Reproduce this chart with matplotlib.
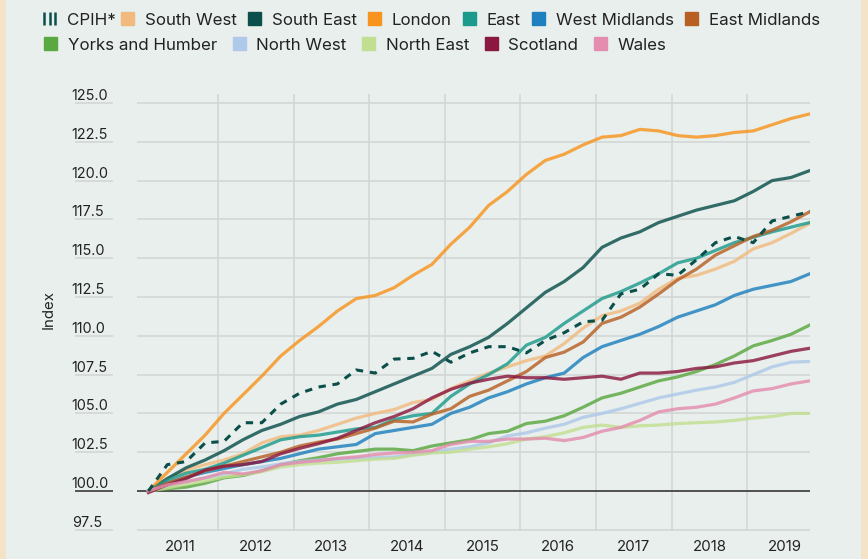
import matplotlib
matplotlib.use('Agg')
import matplotlib.pyplot as plt
from matplotlib.lines import Line2D
from matplotlib.patches import Patch, Rectangle
import numpy as np

plt.rcParams['font.family'] = ['Inter', 'DejaVu Sans']
TXT = '#222222'

# quarterly readings, Feb 2011 .. Nov 2019 (index, base = 100)
years = 2011.08 + 0.25 * np.arange(36)

cpih = [100.0, 101.7, 101.9, 103.1, 103.2, 104.4, 104.4, 105.6, 106.3, 106.7, 106.9, 107.8,
        107.6, 108.5, 108.55, 109.0, 108.3, 108.9, 109.3, 109.3, 108.9, 109.7, 110.2, 110.9,
        111.0, 112.7, 113.0, 114.0, 113.9, 114.9, 116.0, 116.4, 116.0, 117.4, 117.7, 118.0]
south_west = [100.0, 100.8, 101.35, 101.7, 102.0, 102.4, 103.1, 103.5, 103.6, 103.9, 104.3, 104.7,
              105.0, 105.25, 105.7, 105.9, 106.6, 107.1, 107.6, 108.0, 108.4, 108.7, 109.5, 110.5,
              111.3, 111.6, 112.1, 113.0, 113.7, 113.9, 114.3, 114.8, 115.6, 116.0, 116.6, 117.25]
south_east = [100.0, 100.8, 101.5, 102.0, 102.6, 103.3, 103.9, 104.3, 104.8, 105.1, 105.6, 105.9,
              106.4, 106.9, 107.4, 107.9, 108.8, 109.3, 109.9, 110.8, 111.8, 112.8, 113.5, 114.4,
              115.7, 116.3, 116.7, 117.3, 117.7, 118.1, 118.4, 118.7, 119.3, 120.0, 120.2, 120.65]
london = [100.0, 101.2, 102.4, 103.6, 105.0, 106.2, 107.4, 108.7, 109.7, 110.6, 111.6, 112.4,
          112.6, 113.1, 113.9, 114.6, 115.9, 117.0, 118.4, 119.3, 120.4, 121.3, 121.7, 122.3,
          122.8, 122.9, 123.3, 123.2, 122.9, 122.8, 122.9, 123.1, 123.2, 123.6, 124.0, 124.3]
east = [100.0, 100.7, 101.15, 101.4, 101.8, 102.3, 102.8, 103.3, 103.5, 103.6, 103.8, 104.0,
        104.1, 104.6, 104.85, 105.0, 106.1, 106.9, 107.5, 108.2, 109.4, 109.9, 110.8, 111.6,
        112.4, 112.85, 113.4, 114.0, 114.7, 115.0, 115.5, 116.0, 116.35, 116.7, 117.0, 117.3]
west_midlands = [100.0, 100.5, 100.9, 101.2, 101.45, 101.7, 101.9, 102.1, 102.4, 102.7, 102.85, 103.0,
                 103.7, 103.9, 104.1, 104.3, 105.0, 105.4, 106.0, 106.4, 106.9, 107.3, 107.6, 108.6,
                 109.3, 109.7, 110.1, 110.6, 111.2, 111.6, 112.0, 112.6, 113.0, 113.25, 113.5, 114.0]
east_midlands = [100.0, 100.5, 100.9, 101.3, 101.6, 101.9, 102.2, 102.5, 102.9, 103.15, 103.35, 103.7,
                 104.05, 104.5, 104.45, 104.95, 105.3, 106.1, 106.5, 107.1, 107.7, 108.6, 108.95, 109.6,
                 110.8, 111.2, 111.85, 112.7, 113.6, 114.3, 115.2, 115.8, 116.4, 116.8, 117.35, 118.0]
yorks = [100.0, 100.15, 100.25, 100.5, 100.85, 101.0, 101.3, 101.7, 101.95, 102.15, 102.4, 102.55,
         102.7, 102.7, 102.6, 102.9, 103.1, 103.3, 103.7, 103.85, 104.35, 104.5, 104.85, 105.4,
         106.0, 106.3, 106.7, 107.1, 107.35, 107.7, 108.15, 108.7, 109.35, 109.7, 110.1, 110.7]
north_west = [100.0, 100.3, 100.6, 100.85, 101.1, 101.4, 101.55, 101.75, 101.9, 102.0, 102.05, 102.1,
              102.15, 102.2, 102.35, 102.5, 102.7, 102.85, 103.1, 103.55, 103.75, 104.05, 104.3, 104.75,
              105.0, 105.3, 105.65, 106.0, 106.25, 106.5, 106.7, 107.0, 107.5, 108.0, 108.3, 108.35]
north_east = [100.0, 100.2, 100.45, 100.65, 100.9, 101.05, 101.25, 101.55, 101.7, 101.8, 101.85, 101.95,
              102.05, 102.1, 102.3, 102.45, 102.5, 102.7, 102.85, 103.05, 103.35, 103.5, 103.75, 104.1,
              104.25, 104.1, 104.2, 104.25, 104.35, 104.4, 104.45, 104.55, 104.7, 104.8, 105.0, 105.0]
scotland = [99.9, 100.4, 100.8, 101.35, 101.6, 101.7, 101.9, 102.4, 102.75, 103.05, 103.4, 103.9,
            104.4, 104.8, 105.3, 106.0, 106.55, 106.95, 107.2, 107.4, 107.3, 107.3, 107.2, 107.3,
            107.4, 107.2, 107.6, 107.6, 107.7, 107.9, 108.0, 108.25, 108.4, 108.7, 109.0, 109.2]
wales = [100.0, 100.4, 100.6, 100.85, 101.2, 101.1, 101.3, 101.7, 101.85, 101.95, 102.1, 102.2,
         102.35, 102.45, 102.5, 102.6, 103.0, 103.2, 103.2, 103.35, 103.35, 103.4, 103.25, 103.45,
         103.85, 104.1, 104.55, 105.1, 105.3, 105.4, 105.6, 106.0, 106.45, 106.6, 106.9, 107.1]

regions = [
    ('South West', south_west, '#F2BA7E'),
    ('South East', south_east, '#0A4F4B'),
    ('London', london, '#F7941D'),
    ('East', east, '#1C9A8C'),
    ('West Midlands', west_midlands, '#1E80BE'),
    ('East Midlands', east_midlands, '#B86024'),
    ('Yorks and Humber', yorks, '#5AA840'),
    ('North West', north_west, '#AEC9EA'),
    ('North East', north_east, '#C2DE91'),
    ('Scotland', scotland, '#8A1840'),
    ('Wales', wales, '#E48DAE'),
]
cpih_color = '#0B4F4A'
yticks = np.arange(97.5, 125.1, 2.5)


class BarsHandler:
    # three little vertical bars, used as the CPIH legend key
    def legend_artist(self, legend, orig_handle, fontsize, handlebox):
        x0, y0 = -handlebox.xdescent, -handlebox.ydescent
        w, h = handlebox.width, handlebox.height
        for k in range(3):
            xx = x0 + w * (0.08 + 0.42 * k)
            ln = Line2D([xx, xx], [y0, y0 + h], color=cpih_color, lw=1.8,
                        solid_capstyle='butt', transform=handlebox.get_transform())
            handlebox.add_artist(ln)
        return ln


fig = plt.figure(figsize=(8.68, 5.59), dpi=100)
fig.patch.set_facecolor('#F4E3C7')
fig.add_artist(Rectangle((6 / 868, 0), 855 / 868, 1, transform=fig.transFigure,
                         facecolor='#E9EFEC', edgecolor='none', zorder=-10))

ax = fig.add_axes([137 / 868, 0.0508, 673 / 868, 0.7816])
ax.set_facecolor('none')

for name, vals, col in regions:
    ax.plot(years, vals, color=col, lw=2.3, alpha=0.82, zorder=3)
ax.plot(years, cpih, color=cpih_color, lw=2.2, ls=(0, (2.4, 2.2)), zorder=4)

ax.axhline(100, color='#3A3A3A', lw=1.2, zorder=2)

ax.set_xlim(2010.929, 2019.831)
ax.set_ylim(97.45, 125.6)
ax.set_yticks(yticks)
ax.set_yticklabels([])
ax.set_xticks(np.arange(2011, 2020) + 0.5)
ax.set_xticklabels([str(y) for y in range(2011, 2020)], fontsize=10.8, color=TXT)
ax.set_xticks(np.arange(2012, 2020), minor=True)
ax.tick_params(axis='both', which='both', length=0)
ax.tick_params(axis='x', pad=7)
ax.grid(True, axis='y', which='major', color='#D3D6D5', lw=1.2, zorder=0)
ax.grid(True, axis='x', which='minor', color='#D3D6D5', lw=1.2, zorder=0)
for s in ax.spines.values():
    s.set_visible(False)

# y labels sit on short underline segments left of the plot
ytr = ax.get_yaxis_transform()
for v in yticks:
    ax.hlines(v, -0.092, -0.0357, transform=ytr, clip_on=False,
              colors='#3A3A3A' if v == 100 else '#D3D6D5', lw=1.2)
    ax.text(-0.097, v, f'{v:.1f}', transform=ytr, ha='left', va='bottom',
            fontsize=10.4, color=TXT)

fig.text(49 / 868, 1 - 310 / 559, 'Index', rotation=90, ha='center', va='center',
         fontsize=10.8, color=TXT)

# legend: flowing rows, built from three single-row legends
cpih_handle = Line2D([], [], color=cpih_color)
row1 = [Patch(color=c) for _, _, c in regions[:6]]
lab1 = [n for n, _, _ in regions[:6]]
row2 = [Patch(color=c) for _, _, c in regions[6:]]
lab2 = [n for n, _, _ in regions[6:]]
leg_kw = dict(frameon=False, fontsize=12.2, handlelength=0.77, handleheight=0.77,
              handletextpad=0.62, borderpad=0, borderaxespad=0,
              loc='center left', labelcolor=TXT)
fig.legend([cpih_handle], ['CPIH*'], bbox_to_anchor=(43 / 868, 1 - 20 / 559),
           handler_map={cpih_handle: BarsHandler()}, **leg_kw)
fig.legend(row1, lab1, ncol=6, columnspacing=0.68,
           bbox_to_anchor=(121 / 868, 1 - 20 / 559), **leg_kw)
fig.legend(row2, lab2, ncol=5, columnspacing=0.93,
           bbox_to_anchor=(44 / 868, 1 - 45 / 559), **leg_kw)

fig.savefig('out.png', dpi=100, facecolor=fig.get_facecolor())
